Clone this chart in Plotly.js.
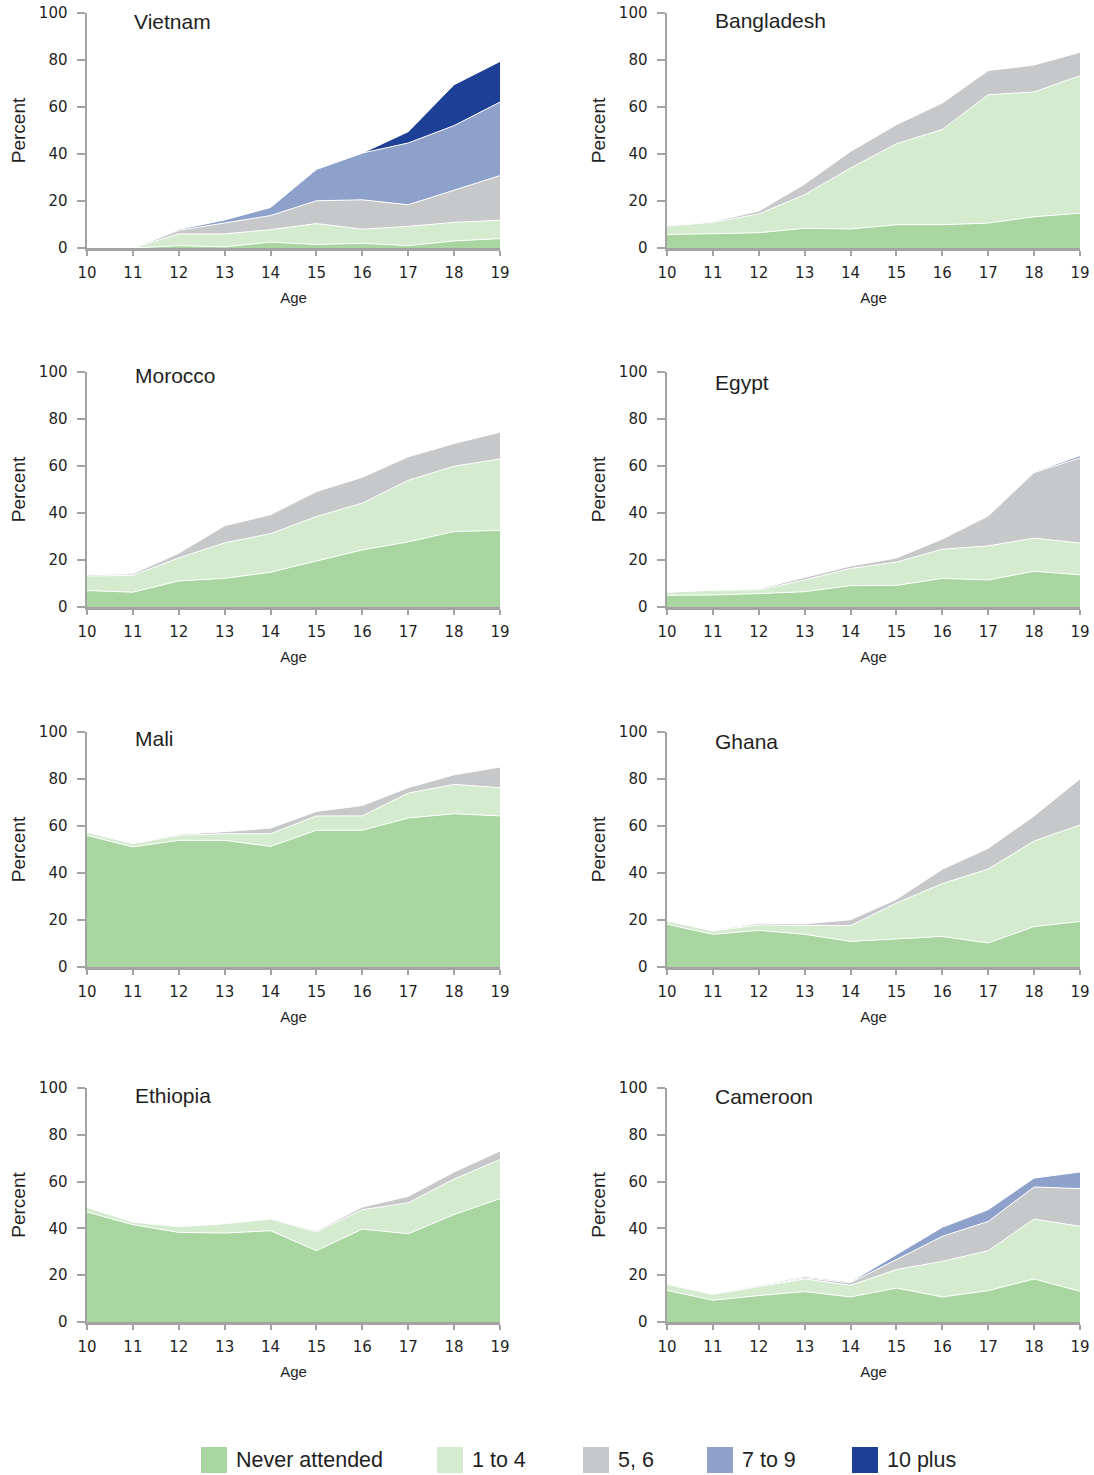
<!DOCTYPE html>
<html>
<head>
<meta charset="utf-8">
<script src="https://cdn.plot.ly/plotly-3.0.1.min.js"></script>
<style>html,body{margin:0;padding:0;background:#fff}#chart{width:1094px;height:1475px}</style>
</head>
<body>
<div id="chart"></div>
<script>
// ---------- DATA ----------
const ages = [10, 11, 12, 13, 14, 15, 16, 17, 18, 19];
const categories = ['Never attended', '1 to 4', '5, 6', '7 to 9', '10 plus'];
const countries = ['Vietnam', 'Bangladesh', 'Morocco', 'Egypt', 'Mali', 'Ghana', 'Ethiopia', 'Cameroon'];

const vietnamNever   = [0, 0, 1.0, 0.5, 2.5, 1.5, 2.0, 1.0, 3.0, 4.0];
const vietnam1to4    = [0, 0, 5.0, 5.5, 5.3, 8.9, 6.0, 8.2, 7.9, 7.8];
const vietnam56      = [0, 0, 1.5, 4.5, 6.0, 9.7, 12.5, 9.2, 13.6, 19.0];
const vietnam7to9    = [0, 0, 0.5, 1.5, 3.5, 13.4, 19.9, 26.3, 27.6, 31.3];
const vietnam10plus  = [0, 0, 0, 0, 0, 0, 0, 4.8, 17.4, 17.3];

const bangladeshNever = [5.7, 6.2, 6.5, 8.4, 8.1, 9.9, 9.9, 10.6, 13.3, 14.8];
const bangladesh1to4  = [3.7, 4.7, 8.0, 14.3, 25.9, 34.5, 40.5, 54.6, 53.1, 58.5];
const bangladesh56    = [0.2, 0.4, 1.2, 4.5, 7.1, 8.1, 11.3, 10.3, 11.5, 10.0];

const moroccoNever = [7.0, 6.3, 11.1, 12.2, 14.8, 19.5, 24.3, 27.7, 32.1, 32.6];
const morocco1to4  = [6.2, 7.1, 9.8, 15.1, 16.4, 19.0, 19.9, 26.2, 27.8, 30.4];
const morocco56    = [0.5, 0.7, 2.0, 7.3, 8.1, 10.6, 11.0, 10.0, 9.7, 11.4];

const egyptNever = [5.0, 5.1, 5.7, 6.5, 9.1, 9.2, 12.2, 11.5, 15.2, 13.7];
const egypt1to4  = [1.3, 2.0, 1.6, 5.0, 7.3, 9.9, 12.4, 14.5, 14.1, 13.5];
const egypt56    = [0.1, 0.2, 0.5, 1.0, 1.1, 1.8, 4.4, 12.8, 27.9, 36.2];
const egypt7to9  = [0, 0, 0, 0, 0, 0, 0, 0, 0.3, 1.0];

const maliNever = [56.0, 51.1, 53.9, 53.9, 51.3, 58.2, 58.2, 63.4, 65.2, 64.3];
const mali1to4  = [1.4, 1.4, 2.1, 2.8, 5.4, 6.1, 6.1, 10.6, 12.5, 12.0];
const mali56    = [0, 0.1, 0.5, 0.9, 2.4, 1.9, 4.4, 2.3, 4.1, 8.8];

const ghanaNever = [18.2, 13.9, 15.6, 13.9, 10.9, 11.8, 13.0, 10.2, 17.2, 19.4];
const ghana1to4  = [1.4, 1.4, 2.3, 3.7, 6.7, 15.4, 22.5, 31.5, 36.4, 41.0];
const ghana56    = [0.1, 0.2, 0.7, 0.8, 2.5, 1.6, 6.1, 8.8, 10.7, 19.7];

const ethiopiaNever = [47.0, 41.6, 38.3, 38.0, 39.0, 30.5, 39.7, 37.7, 45.9, 52.7];
const ethiopia1to4  = [2.0, 1.1, 2.4, 4.0, 5.0, 8.0, 8.3, 13.2, 15.2, 16.7];
const ethiopia56    = [0, 0.2, 0.2, 0.2, 0.3, 0.5, 1.1, 2.8, 3.0, 3.7];

const cameroonNever = [13.5, 9.3, 11.3, 13.0, 10.7, 14.5, 10.7, 13.4, 18.4, 13.1];
const cameroon1to4  = [2.6, 2.5, 3.8, 5.4, 5.0, 7.9, 15.2, 17.1, 25.6, 27.8];
const cameroon56    = [0.1, 0.2, 0.3, 0.5, 1.1, 4.2, 10.7, 12.5, 13.7, 16.1];
const cameroon7to9  = [0.2, 0.1, 0.3, 0.5, 0.3, 2.2, 3.9, 5.0, 3.8, 7.1];

const xTicks = [10, 11, 12, 13, 14, 15, 16, 17, 18, 19];
const yTicks = [0, 20, 40, 60, 80, 100];

// ---------- BUILD ----------
const seriesByCountry = [
  [vietnamNever, vietnam1to4, vietnam56, vietnam7to9, vietnam10plus],
  [bangladeshNever, bangladesh1to4, bangladesh56],
  [moroccoNever, morocco1to4, morocco56],
  [egyptNever, egypt1to4, egypt56, egypt7to9],
  [maliNever, mali1to4, mali56],
  [ghanaNever, ghana1to4, ghana56],
  [ethiopiaNever, ethiopia1to4, ethiopia56],
  [cameroonNever, cameroon1to4, cameroon56, cameroon7to9]
];

const colors = ['#a8d5a0', '#d4ebd0', '#c7c8ca', '#8ea1cb', '#1e3f96'];
const W = 1094, H = 1475;
const colX = [[87, 500], [667, 1080]];
const rowY = [[13, 248], [372, 607], [732, 967], [1088, 1322]];
const titlePos = [[132, 22], [713, 20], [133, 375], [713, 382], [133, 738], [713, 741], [133, 1095], [713, 1096]];

const axisColor = '#a3a3a3';
const textColor = '#1f1f1f';
const tickFont = {family: 'DejaVu Sans, sans-serif', size: 15, color: textColor};

const traces = [];
const layout = {
  width: W, height: H,
  margin: {l: 0, r: 0, t: 0, b: 0},
  paper_bgcolor: '#ffffff', plot_bgcolor: '#ffffff',
  showlegend: false,
  annotations: [], shapes: []
};

countries.forEach((name, i) => {
  const r = Math.floor(i / 2), c = i % 2;
  const sfx = i === 0 ? '' : String(i + 1);
  seriesByCountry[i].forEach((vals, k) => {
    traces.push({
      type: 'scatter', mode: 'lines',
      x: ages, y: vals,
      name: categories[k],
      stackgroup: 'g' + i,
      fillcolor: colors[k],
      line: {color: '#ffffff', width: 1},
      xaxis: 'x' + sfx, yaxis: 'y' + sfx,
      hoverinfo: 'x+y+name'
    });
  });
  layout['xaxis' + sfx] = {
    domain: [colX[c][0] / W, colX[c][1] / W],
    anchor: 'y' + sfx,
    range: [10, 19], tickvals: xTicks,
    showgrid: false, zeroline: false,
    showline: true, linecolor: axisColor, linewidth: 2.5,
    ticks: 'outside', ticklen: 5, tickwidth: 2, tickcolor: axisColor,
    ticklabelstandoff: 4,
    tickfont: tickFont,
    title: {text: 'Age', font: {family: 'Liberation Sans, Arial, sans-serif', size: 15, color: textColor}, standoff: 12}
  };
  layout['yaxis' + sfx] = {
    domain: [1 - rowY[r][1] / H, 1 - rowY[r][0] / H],
    anchor: 'x' + sfx,
    range: [0, 100], tickvals: yTicks,
    showgrid: false, zeroline: false,
    showline: true, linecolor: axisColor, linewidth: 2.5,
    ticks: 'outside', ticklen: 8, tickwidth: 2, tickcolor: axisColor,
    ticklabelstandoff: 6,
    tickfont: tickFont,
    title: {text: 'Percent', font: {family: 'Liberation Sans, Arial, sans-serif', size: 19, color: textColor}, standoff: 8}
  };
  layout.annotations.push({
    xref: 'paper', yref: 'paper',
    x: titlePos[i][0] / W, y: 1 - titlePos[i][1] / H,
    xanchor: 'left', yanchor: 'middle',
    text: name, showarrow: false,
    font: {family: 'Liberation Sans, Arial, sans-serif', size: 21, color: textColor}
  });
});

// Legend (manual, squares like the original)
const legLeft = [201, 437, 583, 707, 852];
const legTop = 1447, legSize = 26;
categories.forEach((cat, k) => {
  layout.shapes.push({
    type: 'rect', xref: 'paper', yref: 'paper',
    x0: legLeft[k] / W, x1: (legLeft[k] + legSize) / W,
    y0: 1 - (legTop + legSize) / H, y1: 1 - legTop / H,
    fillcolor: colors[k], line: {width: 0}
  });
  layout.annotations.push({
    xref: 'paper', yref: 'paper',
    x: (legLeft[k] + legSize + 7) / W, y: 1 - (legTop + legSize / 2) / H,
    xanchor: 'left', yanchor: 'middle',
    text: cat, showarrow: false,
    font: {family: 'Liberation Sans, Arial, sans-serif', size: 21.5, color: textColor}
  });
});

Plotly.newPlot('chart', traces, layout, {displayModeBar: false, staticPlot: true});
</script>
</body>
</html>
